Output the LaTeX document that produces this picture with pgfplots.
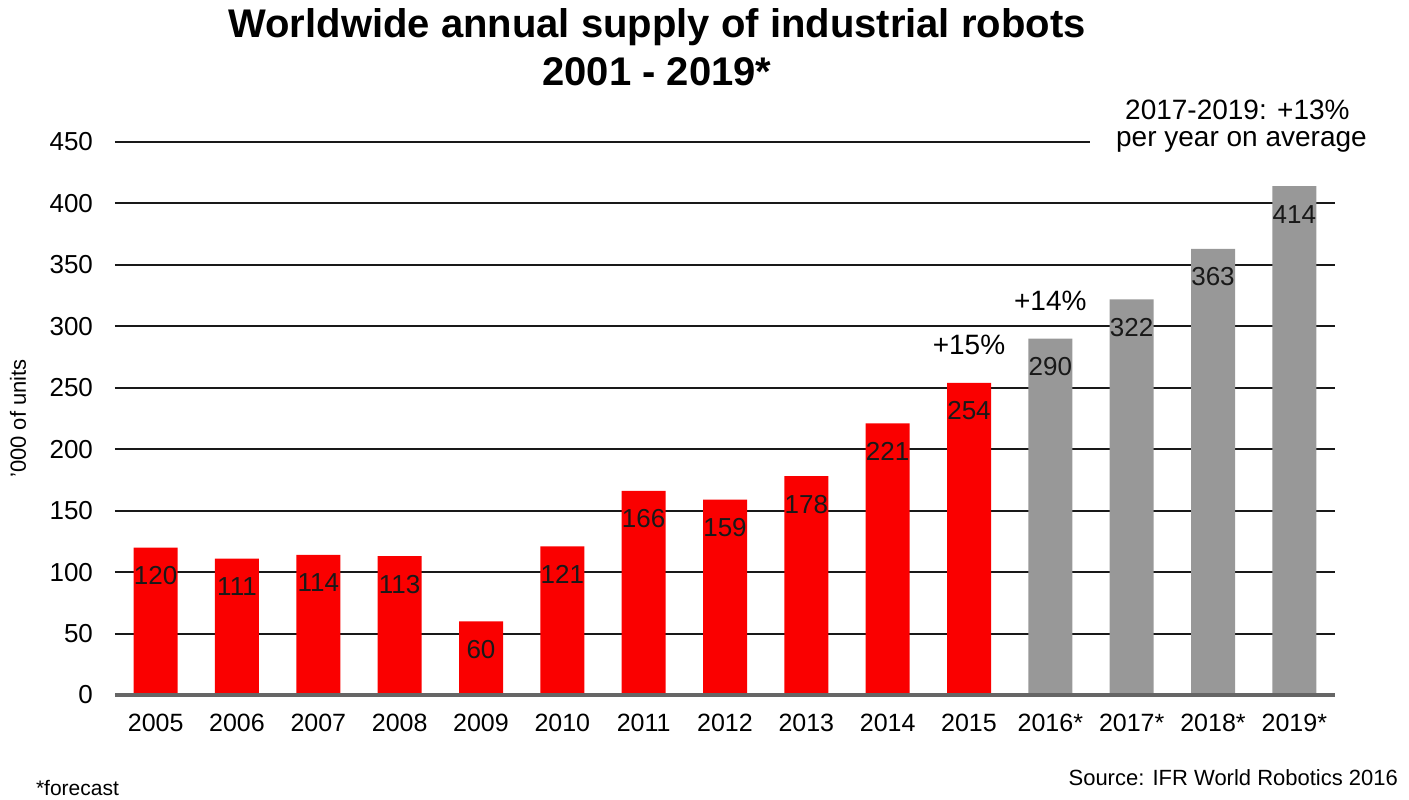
\documentclass[border=0pt]{standalone}
\usepackage{fontspec}
\setmainfont{Liberation Sans}
\usepackage{pgfplots}
\pgfplotsset{compat=1.18}
\usetikzlibrary{calc}

\definecolor{barred}{RGB}{250,0,0}
\definecolor{bargray}{RGB}{152,152,152}

% actual supply, '000 of units
\pgfplotstableread{
x y
0 120
1 111
2 114
3 113
4 60
5 121
6 166
7 159
8 178
9 221
10 254
}\actual

% forecast
\pgfplotstableread{
x y
11 290
12 322
13 363
14 414
}\forecast

\begin{document}
\begin{tikzpicture}
\begin{axis}[
    name=ax,
    scale only axis,
    width=610pt, height=276.5pt,
    xmin=-0.5, xmax=14.5,
    ymin=0, ymax=450,
    ytick={0,50,...,450},
    xtick={0,...,14},
    xticklabels={2005,2006,2007,2008,2009,2010,2011,2012,2013,2014,2015,2016*,2017*,2018*,2019*},
    ymajorgrids,
    grid style={black!90, line width=1pt},
    axis line style={draw=none},
    major tick style={draw=none},
    tick label style={font=\fontsize{12.5}{14}\selectfont},
    yticklabel style={font=\fontsize{13}{15}\selectfont, xshift=-7.5pt},
    /pgf/number format/assume math mode=true,
    xticklabel style={yshift=-6pt},
    clip=false,
    nodes near coords,
    every node near coord/.append style={anchor=center, yshift=-14pt,
        font=\fontsize{13}{15}\selectfont, text=black!90},
]
\addplot[ybar, bar width=22pt, fill=barred, draw=none] table {\actual};
\addplot[ybar, bar width=22pt, fill=bargray, draw=none] table {\forecast};

% base line
\draw[black!60, line width=1.6pt] (axis cs:-0.5,0) -- (axis cs:14.5,0);

% growth annotations
\node[font=\fontsize{14}{16}\selectfont] at (axis cs:10,285) {+15\%};
\node[font=\fontsize{14}{16}\selectfont] at (axis cs:11,321) {+14\%};
\fill[white] (axis cs:11.49,440) rectangle (axis cs:14.6,462);
\node[font=\fontsize{14}{16}\selectfont] at (axis cs:13.3,476) {2017-2019: +13\%};
\node[font=\fontsize{14}{16}\selectfont] at (axis cs:13.35,450) {per year on average};
\end{axis}

\node[rotate=90, font=\fontsize{11}{13}\selectfont] at ($(ax.west)+(-48.5pt,0)$) {'000 of units};

\node[font=\bfseries\fontsize{20}{22}\selectfont] at ($(ax.north west)+(271pt,57.5pt)$) {Worldwide annual supply of industrial robots};
\node[font=\bfseries\fontsize{20}{22}\selectfont] at ($(ax.north west)+(271pt,35pt)$) {2001 - 2019*};

\node[anchor=west, font=\fontsize{10.5}{12}\selectfont] at ($(ax.south west)+(-43pt,-46.5pt)$) {*forecast};
\node[anchor=east, font=\fontsize{11}{13}\selectfont] at ($(ax.south east)+(35pt,-41.5pt)$) {Source: IFR World Robotics 2016};

\pgfresetboundingbox
\path[use as bounding box] ($(ax.south west)+(-57.5pt,-52.5pt)$) rectangle ($(ax.north east)+(37pt,71pt)$);
\end{tikzpicture}
\end{document}
